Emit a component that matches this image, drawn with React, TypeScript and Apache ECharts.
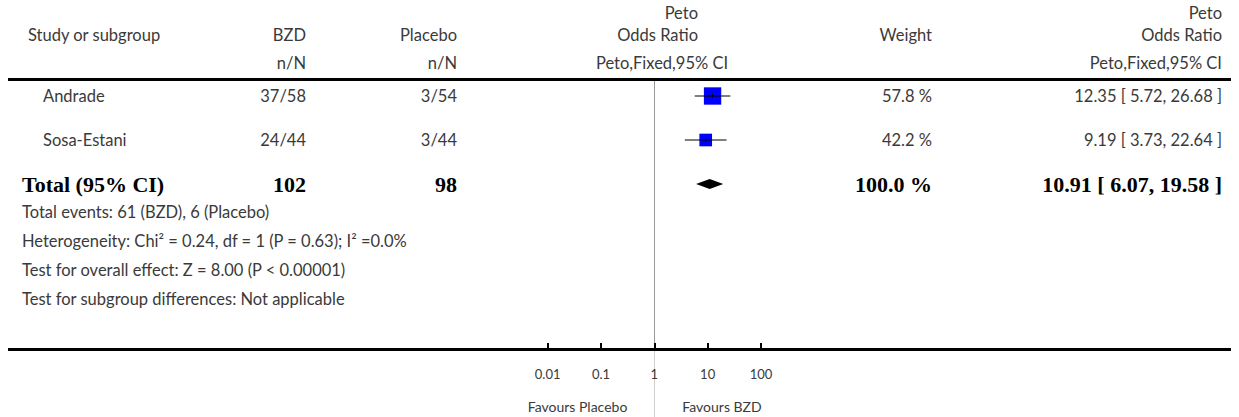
import React, { useEffect, useRef } from "react";
import * as echarts from "echarts";

const studies = ["Andrade", "Sosa-Estani"];
const bzdEvents = [37, 24];
const bzdTotals = [58, 44];
const placeboEvents = [3, 3];
const placeboTotals = [54, 44];
const oddsRatios = [12.35, 9.19];
const ciLower = [5.72, 3.73];
const ciUpper = [26.68, 22.64];
const weights = [57.8, 42.2];

const totalLabel = "Total (95% CI)";
const totalBzd = 102;
const totalPlacebo = 98;
const totalOR = 10.91;
const totalLower = 6.07;
const totalUpper = 19.58;
const totalWeight = 100.0;

const footnotes = [
  "Total events: 61 (BZD), 6 (Placebo)",
  "Heterogeneity: Chi\u00B2 = 0.24, df = 1 (P = 0.63); I\u00B2 =0.0%",
  "Test for overall effect: Z = 8.00 (P < 0.00001)",
  "Test for subgroup differences: Not applicable",
];

const tickLabels = ["0.01", "0.1", "1", "10", "100"];
const favourLeft = "Favours Placebo";
const favourRight = "Favours BZD";

const SANS = "Lato, 'Open Sans', sans-serif";
const SERIF = "'Liberation Serif', 'DejaVu Serif', serif";
const TXT = "#3a3a3a";

export default function App() {
  const ref = useRef<HTMLDivElement>(null);

  useEffect(() => {
    document.body.style.margin = "0";
    const chart = echarts.init(ref.current!, null, { renderer: "svg" });
    const rowStep = 44;
    chart.setOption({
      animation: false,
      grid: { left: 547.67, width: 213.33, top: 80, height: 269 },
      xAxis: {
        type: "log",
        logBase: 10,
        min: 0.01,
        max: 100,
        position: "bottom",
        axisLine: { show: false, onZero: false },
        axisTick: { show: true, inside: true, length: 6, lineStyle: { color: "#000", width: 2 } },
        axisLabel: {
          margin: 18,
          fontSize: 13,
          color: TXT,
          fontFamily: SANS,
          formatter: (v: number) => tickLabels[Math.round(Math.log10(v)) + 2] ?? String(v),
        },
        splitLine: { show: false },
        minorTick: { show: false },
      },
      yAxis: {
        type: "value",
        inverse: true,
        min: -16 / rowStep,
        max: 253 / rowStep,
        show: false,
      },
      series: [
        {
          type: "scatter",
          symbol: "rect",
          data: oddsRatios.map((o, i) => [o, i, weights[i]]),
          symbolSize: (val: number[]) => val[2] * 0.3,
          itemStyle: { color: "#0000ff", opacity: 1 },
          z: 2,
        },
        {
          type: "custom",
          z: 3,
          encode: { x: [0, 2, 3], y: 1 },
          data: oddsRatios.map((o, i) => [o, i, ciLower[i], ciUpper[i]]),
          renderItem: (params: any, api: any) => {
            const y = api.value(1);
            const p = api.coord([api.value(0), y]);
            const a = api.coord([api.value(2), y]);
            const b = api.coord([api.value(3), y]);
            return {
              type: "group",
              children: [
                {
                  type: "line",
                  shape: { x1: a[0], y1: a[1], x2: b[0], y2: b[1] },
                  style: { stroke: "#000", lineWidth: 1 },
                },
                {
                  type: "line",
                  shape: { x1: p[0], y1: p[1] - 2, x2: p[0], y2: p[1] + 2 },
                  style: { stroke: "#000", lineWidth: 1 },
                },
              ],
            };
          },
        },
        {
          type: "custom",
          z: 3,
          encode: { x: [0, 2, 3], y: 1 },
          data: [[totalOR, studies.length, totalLower, totalUpper]],
          renderItem: (params: any, api: any) => {
            const y = api.value(1);
            const p = api.coord([api.value(0), y]);
            const a = api.coord([api.value(2), y]);
            const b = api.coord([api.value(3), y]);
            return {
              type: "polygon",
              shape: {
                points: [
                  [a[0], a[1]],
                  [p[0], p[1] - 5],
                  [b[0], b[1]],
                  [p[0], p[1] + 5],
                ],
              },
              style: { fill: "#000" },
            };
          },
        },
      ],
    });

    const xOne = chart.convertToPixel({ xAxisIndex: 0 }, 1) as number;
    const rowY = (i: number) => chart.convertToPixel({ yAxisIndex: 0 }, i) as number;

    const FS = 16.5;
    const sans = (text: string, x: number, y: number, align: string, size = FS) => ({
      type: "text",
      x,
      y,
      silent: true,
      style: {
        text,
        fill: TXT,
        font: `${size}px ${SANS}`,
        align,
        verticalAlign: "middle",
      },
    });
    const bold = (text: string, x: number, y: number, align: string) => ({
      type: "text",
      x,
      y,
      silent: true,
      style: {
        text,
        fill: "#000",
        font: `bold 22px ${SERIF}`,
        align,
        verticalAlign: "middle",
      },
    });

    const colBzd = 306;
    const colPlacebo = 457;
    const colWeight = 932;
    const colCI = 1222;

    const els: any[] = [];
    // header
    els.push(sans("Study or subgroup", 28, 35, "left"));
    els.push(sans("BZD", colBzd, 35, "right"));
    els.push(sans("n/N", colBzd, 63, "right"));
    els.push(sans("Placebo", colPlacebo, 35, "right"));
    els.push(sans("n/N", colPlacebo, 63, "right"));
    els.push(sans("Peto", 698, 13, "right"));
    els.push(sans("Odds Ratio", 698, 35, "right"));
    els.push(sans("Peto,Fixed,95% CI", 662, 63, "center"));
    els.push(sans("Weight", colWeight, 35, "right"));
    els.push(sans("Peto", colCI, 13, "right"));
    els.push(sans("Odds Ratio", colCI, 35, "right"));
    els.push(sans("Peto,Fixed,95% CI", colCI, 63, "right"));

    studies.forEach((s, i) => {
      const y = rowY(i);
      els.push(sans(s, 43, y, "left"));
      els.push(sans(`${bzdEvents[i]}/${bzdTotals[i]}`, colBzd, y, "right"));
      els.push(sans(`${placeboEvents[i]}/${placeboTotals[i]}`, colPlacebo, y, "right"));
      els.push(sans(`${weights[i].toFixed(1)} %`, colWeight, y, "right"));
      els.push(
        sans(
          `${oddsRatios[i].toFixed(2)} [ ${ciLower[i].toFixed(2)}, ${ciUpper[i].toFixed(2)} ]`,
          colCI,
          y,
          "right"
        )
      );
    });

    const ty = rowY(studies.length);
    els.push(bold(totalLabel, 22, ty, "left"));
    els.push(bold(String(totalBzd), colBzd, ty, "right"));
    els.push(bold(String(totalPlacebo), colPlacebo, ty, "right"));
    els.push(bold(`${totalWeight.toFixed(1)} %`, colWeight, ty, "right"));
    els.push(
      bold(`${totalOR.toFixed(2)} [ ${totalLower.toFixed(2)}, ${totalUpper.toFixed(2)} ]`, colCI, ty, "right")
    );

    footnotes.forEach((f, k) => {
      els.push(sans(f, 22, ty + 28 + 29 * k, "left"));
    });

    // rules
    els.push({
      type: "line",
      silent: true,
      shape: { x1: 8, y1: 79.5, x2: 1231, y2: 79.5 },
      style: { stroke: "#000", lineWidth: 3 },
    });
    els.push({
      type: "line",
      silent: true,
      z: 0,
      shape: { x1: Math.round(xOne) + 0.5, y1: 81, x2: Math.round(xOne) + 0.5, y2: 349 },
      style: { stroke: "#999", lineWidth: 1 },
    });
    els.push({
      type: "line",
      silent: true,
      z: 0,
      shape: { x1: Math.round(xOne) + 0.5, y1: 349, x2: Math.round(xOne) + 0.5, y2: 417 },
      style: { stroke: "#d0d0d0", lineWidth: 1 },
    });
    els.push({
      type: "line",
      silent: true,
      shape: { x1: 8, y1: 349.5, x2: 1231, y2: 349.5 },
      style: { stroke: "#000", lineWidth: 3 },
    });

    els.push(sans(favourLeft, xOne - 27, 406, "right", 14));
    els.push(sans(favourRight, xOne + 28, 406, "left", 14));

    chart.setOption({ graphic: { elements: els } });

    return () => chart.dispose();
  }, []);

  return <div ref={ref} style={{ width: 1239, height: 417 }} />;
}
